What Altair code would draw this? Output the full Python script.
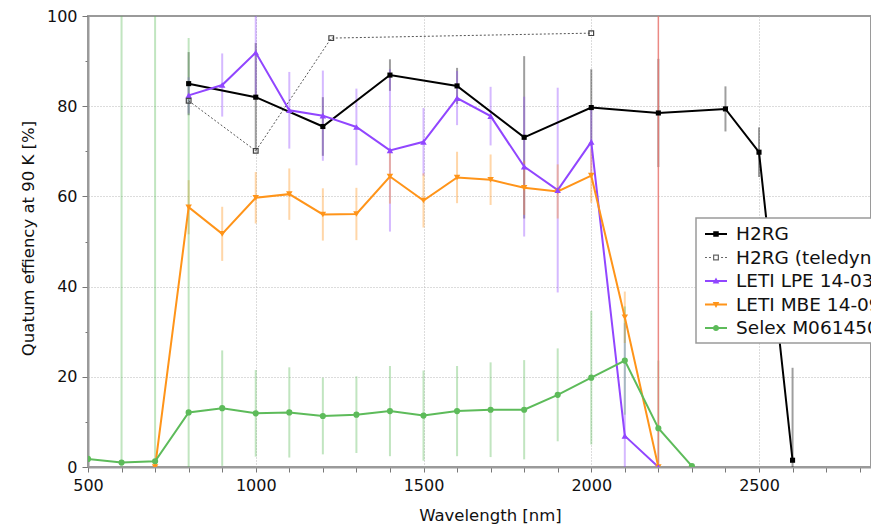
import altair as alt
import pandas as pd

# ---------------- data ----------------
series_names = ["H2RG", "H2RG (teledyne)", "LETI LPE 14-03", "LETI MBE 14-09", "Selex M0614503"]
series_colors = ["#000000", "#666666", "#9146FF", "#FF9419", "#5DBB5A"]

h2rg_wl = [800, 1000, 1200, 1400, 1600, 1800, 2000, 2200, 2400, 2500, 2600]
h2rg_qe = [85.0, 82.0, 75.5, 86.9, 84.5, 73.1, 79.7, 78.5, 79.4, 69.8, 1.5]
h2rg_err = [7, 12, 6.5, 3.5, 4, 18, 8.5, 12, 5, 5.5, 20.5]

tel_wl = [800, 1000, 1225, 2000]
tel_qe = [81.2, 70.1, 95.1, 96.2]

lpe_wl = [800, 900, 1000, 1100, 1200, 1300, 1400, 1500, 1600, 1700, 1800, 1900, 2000, 2100, 2200]
lpe_qe = [82.4, 84.7, 91.9, 79.1, 77.9, 75.4, 70.2, 72.1, 81.8, 77.8, 66.6, 61.4, 72.1, 6.9, 0.0]
lpe_err = [4, 7, 10, 8.5, 10, 8.5, 18, 7.5, 6, 6.5, 15.5, 22.7, 7.5, 25, 0]

mbe_wl = [700, 800, 900, 1000, 1100, 1200, 1300, 1400, 1500, 1600, 1700, 1800, 1900, 2000, 2100, 2200]
mbe_qe = [0.0, 57.6, 51.7, 59.7, 60.5, 56.0, 56.1, 64.4, 59.1, 64.2, 63.7, 61.9, 61.1, 64.6, 33.2, 0.0]
mbe_err = [0, 6, 6, 5.7, 5.7, 5.8, 5.8, 6, 6, 5.7, 5.6, 6, 6, 6, 5.7, 0]

sel_wl = [500, 600, 700, 800, 900, 1000, 1100, 1200, 1300, 1400, 1500, 1600, 1700, 1800, 1900, 2000, 2100, 2200, 2300]
sel_qe = [1.8, 1.0, 1.25, 12.1, 13.05, 11.9, 12.1, 11.3, 11.6, 12.4, 11.4, 12.4, 12.7, 12.7, 16.0, 19.8, 23.6, 8.6, 0.2]
sel_err = [0, 100, 100, 83, 12.8, 9.6, 10, 8.5, 8.5, 10, 10, 10, 10.5, 11, 10.3, 14.8, 12, 15, 0]

cutoff_nm = [2200]

x_ticks = list(range(500, 2900, 100))
y_ticks = list(range(0, 101, 10))
X_MIN, X_MAX = 500, 2833.8

# ---------------- table ----------------
rows = []
def add(name, wl, qe, err=None):
    for i, w in enumerate(wl):
        rows.append({"series": name, "wavelength": w, "qe": qe[i],
                     "err": (err[i] if err is not None else 0)})

add(series_names[0], h2rg_wl, h2rg_qe, h2rg_err)
add(series_names[1], tel_wl, tel_qe)
add(series_names[2], lpe_wl, lpe_qe, lpe_err)
add(series_names[3], mbe_wl, mbe_qe, mbe_err)
add(series_names[4], sel_wl, sel_qe, sel_err)
df = pd.DataFrame(rows)

# ---------------- scales / axes ----------------
FONT = "DejaVu Sans"
x_scale = alt.Scale(domain=[X_MIN, X_MAX], nice=False, zero=False)
y_scale = alt.Scale(domain=[0, 100], nice=False, zero=False)

x_axis = alt.Axis(
    values=x_ticks, format="d",
    labelExpr="datum.value % 500 === 0 ? datum.label : ''",
    gridOpacity={"expr": "datum.value % 500 === 0 && datum.value > 500 ? 1 : 0"},
    grid=True, gridDash=[1, 2], gridColor="#b8b8b8", gridWidth=1,
    tickSize=5, tickColor="#777", tickWidth=1,
    domainColor="#9a9a9a", domainWidth=2,
    labelFontSize=16, labelPadding=5, labelFont=FONT, labelColor="#111",
    labelOverlap=False, labelFlush=False,
    title="Wavelength [nm]", titleFont=FONT, titleFontSize=16.5, titleFontWeight="normal",
    titleColor="#111", titleX=402, titleY=53.5, titleBaseline="alphabetic",
)
y_axis = alt.Axis(
    values=y_ticks,
    labelExpr="datum.value % 20 === 0 ? datum.label : ''",
    gridOpacity={"expr": "datum.value % 20 === 0 && datum.value > 0 && datum.value < 100 ? 1 : 0"},
    tickDash={"expr": "datum.value % 20 === 0 ? [] : [3, 10]"},
    grid=True, gridDash=[1, 2], gridColor="#b8b8b8", gridWidth=1,
    tickSize=6, tickColor="#777", tickWidth=1,
    domainColor="#9a9a9a", domainWidth=2,
    labelFontSize=16, labelPadding=5, labelFont=FONT, labelColor="#111",
    labelOverlap=False, labelFlush=False,
    title="Quatum effiency at 90 K  [%]", titleFont=FONT, titleFontSize=16.5, titleFontWeight="normal",
    titleColor="#111", titleX=-55, titleY=222, titleBaseline="alphabetic", titleAngle=270,
)

X = alt.X("wavelength:Q", scale=x_scale, axis=x_axis)
Y = alt.Y("qe:Q", scale=y_scale, axis=y_axis)
# stroke / fill scales list the series in reverse so that their (hidden) legends
# are not merged with the visible colour/shape legend
rev_names = series_names[::-1]
rev_colors = series_colors[::-1]
STROKE = alt.Stroke("series:N", scale=alt.Scale(domain=rev_names, range=rev_colors), legend=None)
FILL = alt.Fill("series:N", scale=alt.Scale(domain=rev_names, range=rev_colors), legend=None)

base = alt.Chart(df)

# error bars
errbars = base.transform_filter("datum.err > 0").transform_calculate(
    lo="datum.qe - datum.err", hi="datum.qe + datum.err"
).mark_rule(strokeWidth=2, opacity=0.38, clip=True).encode(
    x=X, y=alt.Y("lo:Q", scale=y_scale, axis=y_axis), y2="hi:Q", stroke=STROKE
)

# cutoff line
cutoff = alt.Chart(pd.DataFrame({"wavelength": cutoff_nm})).mark_rule(
    color="#E8766E", strokeWidth=1.5, opacity=0.85
).encode(x=X)

# lines
solid_lines = base.transform_filter(alt.datum.series != series_names[1]).mark_line(
    strokeWidth=2, clip=True
).encode(x=X, y=Y, stroke=STROKE, order="wavelength:Q")

tel_line = base.transform_filter(alt.datum.series == series_names[1]).mark_line(
    strokeWidth=1, strokeDash=[2, 2], color="#555", clip=True
).encode(x=X, y=Y, order="wavelength:Q")

def pts(name, shape, size):
    return base.transform_filter(alt.datum.series == name).mark_point(
        shape=shape, size=size, filled=True, opacity=1, clip=True
    ).encode(x=X, y=Y, fill=FILL)

p_sel = pts(series_names[4], "circle", 38)
p_mbe = pts(series_names[3], "triangle-down", 42)
p_lpe = pts(series_names[2], "triangle-up", 42)
p_h2 = pts(series_names[0], "square", 26)
p_tel = base.transform_filter(alt.datum.series == series_names[1]).mark_point(
    shape="square", size=22, filled=False, color="#444", strokeWidth=1.2, opacity=1, clip=True
).encode(x=X, y=Y)

# legend (custom line+marker symbols)
line_bar = "M-1,-0.09H1V0.09H-1Z"
legend_paths = [
    line_bar + "M-0.25,-0.25H0.25V0.25H-0.25Z",
    "M-1,-0.045H-0.82V0.045H-1Z M-0.64,-0.045H-0.46V0.045H-0.64Z "
    "M0.46,-0.045H0.64V0.045H0.46Z M0.82,-0.045H1V0.045H0.82Z "
    "M-0.27,-0.27H0.27V0.27H-0.27Z M-0.16,-0.16V0.16H0.16V-0.16Z",
    line_bar + "M0,-0.32L0.3,0.22L-0.3,0.22Z",
    line_bar + "M0,0.32L-0.3,-0.22L0.3,-0.22Z",
    line_bar + "M-0.28,0A0.28,0.28 0 1,1 0.28,0A0.28,0.28 0 1,1 -0.28,0Z",
]
leg = dict(title=None, orient="none", legendX=608, legendY=202, symbolSize=484,
           symbolStrokeWidth=0, labelFont=FONT, labelFontSize=18.5, labelColor="#111",
           labelOffset=9, symbolOffset=4, padding=5, rowPadding=2.5, labelLimit=400,
           strokeColor="#9a9a9a", fillColor="white")
legend_layer = base.transform_filter("false").mark_point(filled=True, size=484, opacity=1).encode(
    x=X, y=Y,
    color=alt.Color("series:N", scale=alt.Scale(domain=series_names, range=series_colors),
                    legend=alt.Legend(**leg)),
    shape=alt.Shape("series:N", scale=alt.Scale(domain=series_names, range=legend_paths),
                    legend=alt.Legend(**leg)),
)

chart = alt.layer(
    errbars, cutoff, tel_line, solid_lines, p_sel, p_mbe, p_lpe, p_tel, p_h2, legend_layer
).properties(
    width=783, height=451,
    padding={"left": 80, "top": 8, "right": 0, "bottom": 60},
    autosize=alt.AutoSizeParams(type="none"),
    background="white",
).configure_view(stroke="#9a9a9a", strokeWidth=2).configure_legend(strokeWidth=1.5)

chart.save("out.html", embed_options={"renderer": "svg", "actions": False})
